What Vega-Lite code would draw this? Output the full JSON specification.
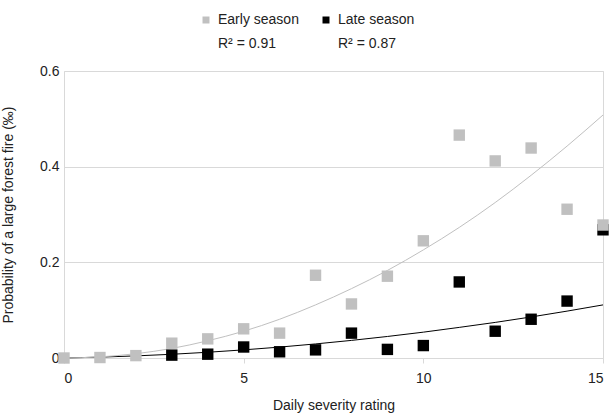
{
  "$schema": "https://vega.github.io/schema/vega-lite/v6.json",
  "width": 539,
  "height": 287,
  "autosize": "none",
  "padding": {"left": 64, "top": 71, "right": 9, "bottom": 55},
  "config": {
    "font": "Liberation Sans",
    "view": {"stroke": "#d9d9d9"},
    "axis": {
      "labelFont": "Liberation Sans",
      "labelFontSize": 14,
      "labelColor": "#222222",
      "titleFont": "Liberation Sans",
      "titleFontSize": 14,
      "titleFontWeight": "normal",
      "titleColor": "#222222"
    }
  },
  "datasets": {
    "obs": [
      {"rating": 3, "season": "Late season", "p": 0.006},
      {"rating": 4, "season": "Late season", "p": 0.008},
      {"rating": 5, "season": "Late season", "p": 0.023},
      {"rating": 6, "season": "Late season", "p": 0.013},
      {"rating": 7, "season": "Late season", "p": 0.017},
      {"rating": 8, "season": "Late season", "p": 0.052},
      {"rating": 9, "season": "Late season", "p": 0.018},
      {"rating": 10, "season": "Late season", "p": 0.026},
      {"rating": 11, "season": "Late season", "p": 0.159},
      {"rating": 12, "season": "Late season", "p": 0.056},
      {"rating": 13, "season": "Late season", "p": 0.081},
      {"rating": 14, "season": "Late season", "p": 0.119},
      {"rating": 15, "season": "Late season", "p": 0.268},
      {"rating": 0, "season": "Early season", "p": 0.0},
      {"rating": 1, "season": "Early season", "p": 0.001},
      {"rating": 2, "season": "Early season", "p": 0.005},
      {"rating": 3, "season": "Early season", "p": 0.031},
      {"rating": 4, "season": "Early season", "p": 0.040},
      {"rating": 5, "season": "Early season", "p": 0.061},
      {"rating": 6, "season": "Early season", "p": 0.052},
      {"rating": 7, "season": "Early season", "p": 0.173},
      {"rating": 8, "season": "Early season", "p": 0.113},
      {"rating": 9, "season": "Early season", "p": 0.171},
      {"rating": 10, "season": "Early season", "p": 0.245},
      {"rating": 11, "season": "Early season", "p": 0.466},
      {"rating": 12, "season": "Early season", "p": 0.412},
      {"rating": 13, "season": "Early season", "p": 0.439},
      {"rating": 14, "season": "Early season", "p": 0.311},
      {"rating": 15, "season": "Early season", "p": 0.278}
    ],
    "trend": [
      {"rating": 0, "season": "Late season", "p": 0.0},
      {"rating": 1, "season": "Late season", "p": 0.0018},
      {"rating": 2, "season": "Late season", "p": 0.0044},
      {"rating": 3, "season": "Late season", "p": 0.0078},
      {"rating": 4, "season": "Late season", "p": 0.012},
      {"rating": 5, "season": "Late season", "p": 0.017},
      {"rating": 6, "season": "Late season", "p": 0.0228},
      {"rating": 7, "season": "Late season", "p": 0.0294},
      {"rating": 8, "season": "Late season", "p": 0.0368},
      {"rating": 9, "season": "Late season", "p": 0.045},
      {"rating": 10, "season": "Late season", "p": 0.054},
      {"rating": 11, "season": "Late season", "p": 0.064},
      {"rating": 12, "season": "Late season", "p": 0.0744},
      {"rating": 13, "season": "Late season", "p": 0.0858},
      {"rating": 14, "season": "Late season", "p": 0.098},
      {"rating": 15, "season": "Late season", "p": 0.111},
      {"rating": 0, "season": "Early season", "p": 0.0},
      {"rating": 1, "season": "Early season", "p": 0.0023},
      {"rating": 2, "season": "Early season", "p": 0.009},
      {"rating": 3, "season": "Early season", "p": 0.020},
      {"rating": 4, "season": "Early season", "p": 0.036},
      {"rating": 5, "season": "Early season", "p": 0.056},
      {"rating": 6, "season": "Early season", "p": 0.081},
      {"rating": 7, "season": "Early season", "p": 0.111},
      {"rating": 8, "season": "Early season", "p": 0.145},
      {"rating": 9, "season": "Early season", "p": 0.183},
      {"rating": 10, "season": "Early season", "p": 0.226},
      {"rating": 11, "season": "Early season", "p": 0.273},
      {"rating": 12, "season": "Early season", "p": 0.325},
      {"rating": 13, "season": "Early season", "p": 0.382},
      {"rating": 14, "season": "Early season", "p": 0.443},
      {"rating": 15, "season": "Early season", "p": 0.508}
    ]
  },
  "encoding": {
    "x": {
      "field": "rating", "type": "quantitative",
      "scale": {"domain": [0, 15], "nice": false},
      "axis": {
        "title": "Daily severity rating",
        "values": [0, 5, 10, 15],
        "grid": false,
        "domain": true,
        "domainColor": "#d9d9d9",
        "ticks": true,
        "tickColor": "#d9d9d9",
        "tickSize": 5,
        "labelPadding": 8,
        "titlePadding": 13
      }
    },
    "y": {
      "field": "p", "type": "quantitative",
      "scale": {"domain": [0, 0.6], "nice": false},
      "axis": {
        "title": "Probability of a large forest fire (‰)",
        "values": [0, 0.2, 0.4, 0.6],
        "format": ".1~f",
        "grid": true,
        "gridColor": "#d9d9d9",
        "domain": false,
        "ticks": false,
        "labelPadding": 5,
        "titlePadding": 24
      }
    },
    "color": {
      "field": "season", "type": "nominal",
      "scale": {"domain": ["Early season", "Late season"], "range": ["#c0c0c0", "#000000"]},
      "legend": {
        "orient": "none",
        "legendX": 135,
        "legendY": -58,
        "direction": "horizontal",
        "title": null,
        "symbolType": "square",
        "symbolSize": 49,
        "symbolStrokeWidth": 0,
        "labelFont": "Liberation Sans",
        "labelFontSize": 14,
        "labelColor": "#222222",
        "labelOffset": 5,
        "columnPadding": 20,
        "labelExpr": "datum.label == 'Early season' ? ['Early season', 'R² = 0.91'] : ['Late season', 'R² = 0.87']",
        "encode": {"labels": {"update": {"lineHeight": {"value": 24}}}}
      }
    }
  },
  "layer": [
    {
      "data": {"name": "trend"},
      "mark": {"type": "line", "strokeWidth": 1, "interpolate": "monotone"}
    },
    {
      "data": {"name": "obs"},
      "mark": {"type": "point", "shape": "square", "filled": true, "size": 130, "opacity": 1}
    }
  ]
}
